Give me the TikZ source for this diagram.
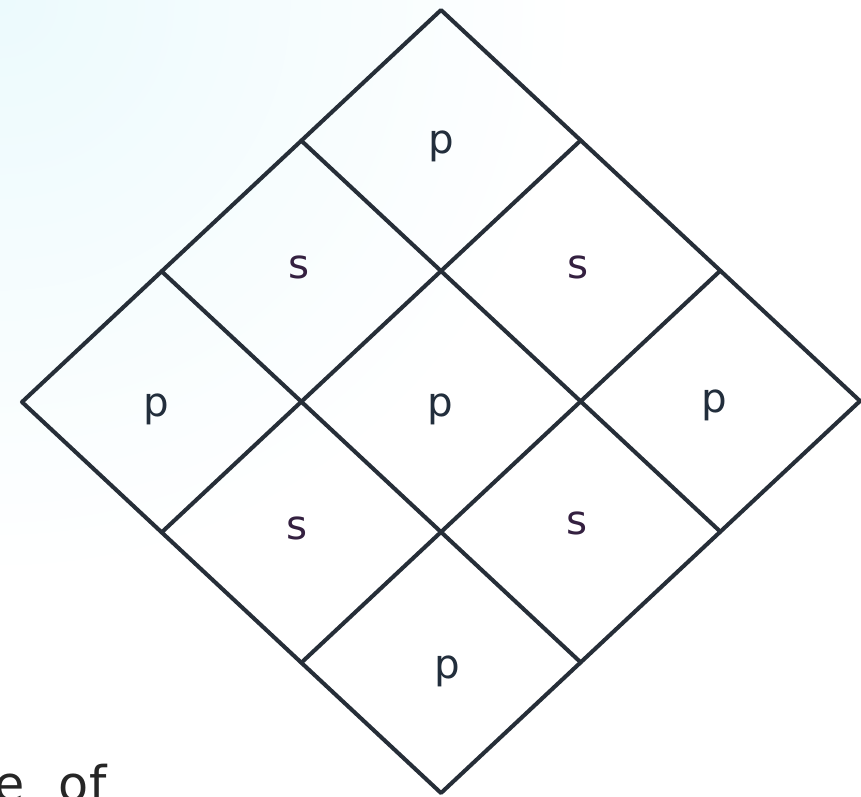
\documentclass[tikz,border=0pt]{standalone}
\usepackage{fontspec}
\setmainfont{DejaVu Sans}
\usepackage{xcolor}
\usepackage{tikz}
\definecolor{gridline}{RGB}{38,46,56}
\definecolor{plab}{RGB}{34,46,60}
\definecolor{slab}{RGB}{52,32,64}
\definecolor{bgtint}{RGB}{236,250,253}
\tikzset{
  gl/.style  ={draw=gridline, line width=2.3pt, line join=round, line cap=round},
  lab/.style ={font=\fontsize{23}{26}\selectfont, inner sep=0pt, anchor=mid},
  pl/.style  ={lab, text=plab},
  sl/.style  ={lab, text=slab},
}

\begin{document}
\begin{tikzpicture}[x=0.02cm,y=-0.02cm]
  \useasboundingbox (0,0) rectangle (861,796);
  \begin{scope}
    \clip (0,0) rectangle (861,796);
    \fill[white] (0,0) rectangle (861,796);
    \shade[inner color=bgtint,outer color=white] (0,0) circle (580);
    % outline of the diamond
    \draw[gl] (22,402) -- (441,10) -- (860,401) -- (441,793) -- cycle;
    % inner lines, one way
    \draw[gl] (161.67,532.33) -- (580.67,140.33);
    \draw[gl] (301.33,662.67) -- (720.33,270.67);
    % inner lines, other way
    \draw[gl] (161.67,271.33) -- (580.67,662.33);
    \draw[gl] (301.33,140.67) -- (720.33,531.67);
    % cell labels
    \node[pl] (ptop)   at (441,149)   {p};
    \node[sl] (sul)    at (299,274)   {s};
    \node[sl] (sur)    at (578,274)   {s};
    \node[pl] (pleft)  at (156,412)   {p};
    \node[pl] (pmid)   at (440,412)   {p};
    \node[pl] (pright) at (714,408)   {p};
    \node[sl] (sll)    at (297,535)   {s};
    \node[sl] (slr)    at (577,530)   {s};
    \node[pl] (pbot)   at (447,674)   {p};
    % cut-off caption
    \node[font=\fontsize{28}{30}\selectfont, text=black!85, inner sep=0pt, anchor=base west] (cap) at (-6,801) {e\hskip 0.7em of};
  \end{scope}
\end{tikzpicture}
\end{document}
